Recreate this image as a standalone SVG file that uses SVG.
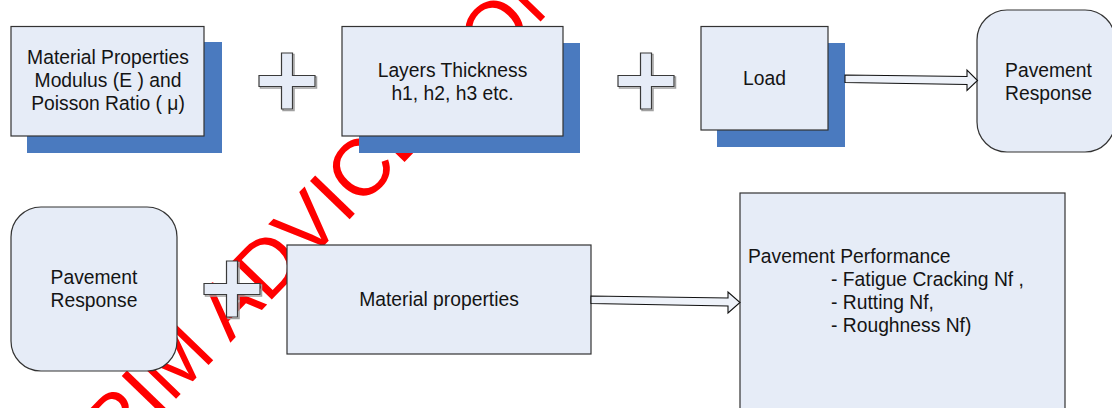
<svg xmlns="http://www.w3.org/2000/svg" xmlns:xlink="http://www.w3.org/1999/xlink" width="1112" height="408" viewBox="0 0 1112 408">
  <style>
    .box { fill: #E6ECF7; stroke: #333333; stroke-width: 1.2; }
    .shadow { fill: #4A7ABF; }
    .lbl { font-family: "Liberation Sans", Arial, sans-serif; font-size: 19.3px; fill: #141414; }
    .mid { text-anchor: middle; }
    .plus { fill: #E6ECF7; stroke: #3a3a3a; stroke-width: 1.2; }
    .plusshadow { fill: none; stroke: #a0a0a0; stroke-width: 1.5; }
    .arrow { fill: #EEF2F9; stroke: #111111; stroke-width: 1.1; stroke-linejoin: miter; }
    .wm { font-family: "Liberation Sans", Arial, sans-serif; font-size: 80px; fill: #FF0000; }
  </style>
  <defs>
    <path id="plusShape" d="M-5.5,-28 H5.5 V-5.5 H28 V5.5 H5.5 V28 H-5.5 V5.5 H-28 V-5.5 H-5.5 Z"/>
  </defs>
  <rect width="1112" height="408" fill="#FFFFFF"/>

  <g id="watermark">
    <text class="wm" transform="translate(116,461) rotate(-46)">RIM ADVICE CON</text>
  </g>

  <g id="material-properties-top">
    <rect class="shadow" x="27" y="42" width="195" height="111"/>
    <rect class="box" x="11" y="26.5" width="193" height="109.5"/>
    <text class="lbl mid" x="108" y="63.5">Material Properties</text>
    <text class="lbl mid" x="108" y="86.5">Modulus (E ) and</text>
    <text class="lbl mid" x="108" y="109.5">Poisson Ratio ( μ)</text>
  </g>

  <g id="plus-1">
    <use xlink:href="#plusShape" href="#plusShape" class="plusshadow" transform="translate(288.5,82.5)"/>
    <use xlink:href="#plusShape" href="#plusShape" class="plus" transform="translate(287,81)"/>
  </g>

  <g id="layers-thickness">
    <rect class="shadow" x="359" y="43" width="221" height="110"/>
    <rect class="box" x="342" y="26.5" width="221" height="109.5"/>
    <text class="lbl mid" x="452.5" y="76.5">Layers Thickness</text>
    <text class="lbl mid" x="452.5" y="99.5">h1, h2, h3 etc.</text>
  </g>

  <g id="plus-2">
    <use xlink:href="#plusShape" href="#plusShape" class="plusshadow" transform="translate(647.5,82.5)"/>
    <use xlink:href="#plusShape" href="#plusShape" class="plus" transform="translate(646,81)"/>
  </g>

  <g id="load">
    <rect class="shadow" x="717" y="43" width="128" height="104"/>
    <rect class="box" x="701" y="26.5" width="127" height="103.5"/>
    <text class="lbl mid" x="764.5" y="84.5">Load</text>
  </g>

  <g id="pavement-response-top">
    <rect class="box" x="977" y="10" width="138" height="142" rx="30" ry="30"/>
    <text class="lbl mid" x="1048.5" y="76.5">Pavement</text>
    <text class="lbl mid" x="1048.5" y="99.5">Response</text>
  </g>

  <g id="pavement-response-bottom">
    <rect class="box" x="11" y="207" width="166" height="164" rx="30" ry="30"/>
    <text class="lbl mid" x="94" y="283.5">Pavement</text>
    <text class="lbl mid" x="94" y="306.5">Response</text>
  </g>

  <g id="plus-3">
    <use xlink:href="#plusShape" href="#plusShape" class="plusshadow" transform="translate(233.5,290.5)"/>
    <use xlink:href="#plusShape" href="#plusShape" class="plus" transform="translate(232,289)"/>
  </g>

  <g id="material-properties-bottom">
    <rect class="box" x="287" y="245" width="304" height="109"/>
    <text class="lbl mid" x="439" y="305.5">Material properties</text>
  </g>

  <g id="pavement-performance">
    <rect class="box" x="740" y="193" width="325" height="230"/>
    <text class="lbl" x="748" y="262.5">Pavement Performance</text>
    <text class="lbl" x="831" y="285.5">- Fatigue Cracking Nf ,</text>
    <text class="lbl" x="831" y="308.5">- Rutting Nf,</text>
    <text class="lbl" x="831" y="331.5">- Roughness Nf)</text>
  </g>

  <g id="connectors">
    <polygon class="arrow" points="845,75 967,76.5 967,70 977.5,80.5 967,90.5 967,84.5 845,82.5"/>
    <polygon class="arrow" points="591,296 728,298 728,292 740,302.5 728,313 728,306 591,303.5"/>
  </g>
</svg>
